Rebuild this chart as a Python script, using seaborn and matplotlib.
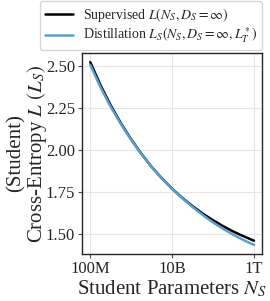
import numpy as np
import pandas as pd
import seaborn as sns
import matplotlib.pyplot as plt

# Student parameter counts (log10) and read-off loss values
log_params = [8.0, 8.25, 8.5, 8.75, 9.0, 9.25, 9.5, 9.75, 10.0,
              10.25, 10.5, 10.75, 11.0, 11.25, 11.5, 11.75, 12.0]
supervised = [2.525, 2.387, 2.267, 2.160, 2.064, 1.978, 1.900, 1.832, 1.770,
              1.715, 1.666, 1.621, 1.582, 1.546, 1.514, 1.486, 1.460]
distillation = [2.508, 2.375, 2.258, 2.155, 2.061, 1.976, 1.899, 1.831, 1.769,
                1.713, 1.661, 1.613, 1.569, 1.530, 1.495, 1.463, 1.435]

label_sup = r"Supervised $L(N_S, D_S=\infty)$"
label_dist = r"Distillation $L_S(N_S, D_S=\infty, L_T^*)$"

df = pd.DataFrame({
    "N": np.concatenate([10.0 ** np.array(log_params)] * 2),
    "loss": supervised + distillation,
    "kind": [label_sup] * len(log_params) + [label_dist] * len(log_params),
})

sns.set_style("whitegrid")
plt.rcParams["font.family"] = ["Liberation Serif", "DejaVu Serif"]
plt.rcParams["mathtext.fontset"] = "stix"

fig = plt.figure(figsize=(2.7, 3.01), dpi=100)
ax = fig.add_axes([0.304, 0.156, 0.667, 0.668])

sns.lineplot(data=df, x="N", y="loss", hue="kind",
             palette={label_sup: "black", label_dist: "#5a9fd0"},
             linewidth=1.8, ax=ax)

ax.set_xscale("log")
ax.set_xticks([1e8, 1e10, 1e12])
ax.set_xticklabels(["100M", "10B", "1T"])
ax.minorticks_off()
ax.set_yticks([1.50, 1.75, 2.00, 2.25, 2.50])
ax.set_yticklabels(["1.50", "1.75", "2.00", "2.25", "2.50"])
ax.tick_params(axis="both", labelsize=12, length=3, width=0.8,
               bottom=True, left=True, pad=2, color="0.3")
for s in ax.spines.values():
    s.set_edgecolor("0.15")
    s.set_linewidth(1.0)
ax.grid(True, color="0.9", linewidth=0.8)

ax.set_xlabel(r"Student Parameters $N_S$", fontsize=15, labelpad=1)
ax.set_ylabel("(Student)\n" + r"Cross-Entropy $L$ $(L_S)$", fontsize=15,
              labelpad=-2, linespacing=0.95)

ax.legend(loc="lower right", bbox_to_anchor=(1.0, 1.015),
          prop={"family": "Liberation Serif", "size": 10},
          frameon=True, handlelength=2.0, handletextpad=0.7,
          borderpad=0.35, borderaxespad=0.0, labelspacing=0.1,
          edgecolor="0.8", title=None)

fig.savefig("out.png", dpi=100)
